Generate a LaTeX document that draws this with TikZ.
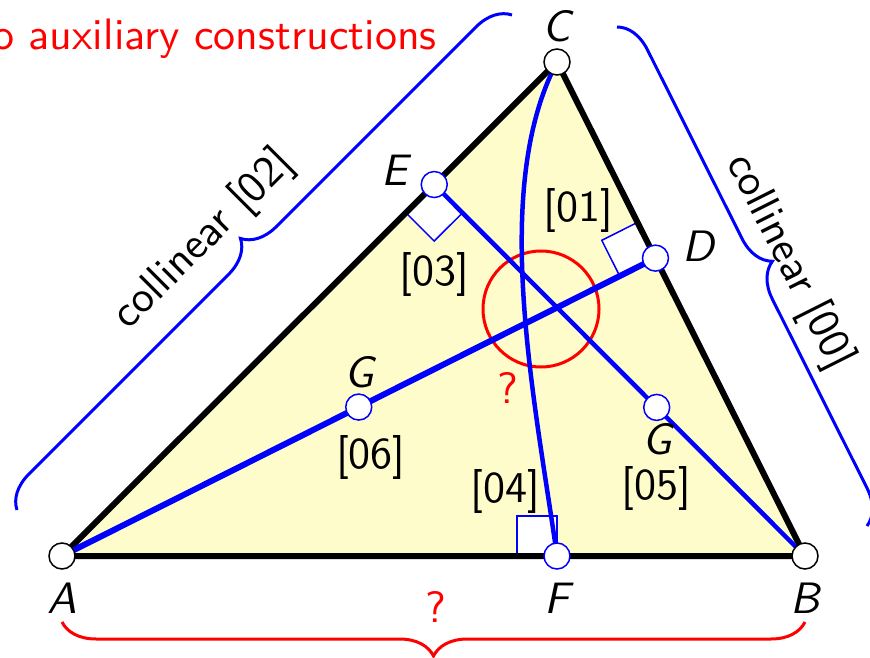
\documentclass[tikz,border=0pt]{standalone}
\usepackage{fontspec}
\setsansfont{lmsans10-regular.otf}[ItalicFont=lmsans10-oblique.otf]
\usetikzlibrary{calc,positioning,decorations.pathreplacing}

\begin{document}
\begin{tikzpicture}[
    x=1pt, y=1pt,
    pointNode/.style={circle, draw, fill=white, minimum size=26pt, inner sep=0pt, line width=1.5pt},
    vertexNode/.style={pointNode, draw=black},
    footNode/.style={pointNode, draw=blue},
    labelNode/.style={inner sep=0pt, font=\fontsize{44}{50}\selectfont\sffamily\itshape},
    stepNode/.style={inner sep=0pt, font=\fontsize{44}{50}\selectfont\sffamily},
    askNode/.style={stepNode, text=red},
    rightAngle/.style={draw=blue, fill=white, line width=1.5pt},
    braceLine/.style={decorate, decoration={brace, amplitude=34pt}, line width=3pt},
  ]

  \useasboundingbox (0,0) rectangle (870,657);

  % Triangle
  \coordinate (A) at (62,101);
  \coordinate (B) at (805,101);
  \coordinate (C) at (557,595);
  \coordinate (D) at ($(B)!(A)!(C)$);
  \coordinate (E) at ($(A)!(B)!(C)$);
  \coordinate (F) at ($(A)!(C)!(B)$);
  \coordinate (G1) at ($(A)!0.5!(D)$);
  \coordinate (G2) at ($(B)!0.4!(E)$);

  \fill[yellow!20] (A) -- (B) -- (C) -- cycle;

  % Right angles
  \coordinate (sqD1) at ($(D)!40pt!(A)$);
  \coordinate (sqD3) at ($(D)!40pt!(C)$);
  \coordinate (sqD2) at ($(sqD1)+(sqD3)-(D)$);
  \coordinate (sqE1) at ($(E)!40pt!(A)$);
  \coordinate (sqE3) at ($(E)!40pt!(B)$);
  \coordinate (sqE2) at ($(sqE1)+(sqE3)-(E)$);
  \coordinate (sqF1) at ($(F)!40pt!(A)$);
  \coordinate (sqF3) at ($(F)!40pt!(C)$);
  \coordinate (sqF2) at ($(sqF1)+(sqF3)-(F)$);
  \draw[rightAngle] (D) -- (sqD1) -- (sqD2) -- (sqD3) -- cycle;
  \draw[rightAngle] (E) -- (sqE1) -- (sqE2) -- (sqE3) -- cycle;
  \draw[rightAngle] (F) -- (sqF1) -- (sqF2) -- (sqF3) -- cycle;

  \draw[line width=6pt, line join=round] (A) -- (B) -- (C) -- cycle;

  % Altitudes
  \draw[red, line width=3pt] (541,348) circle[radius=58];
  \draw[blue, line width=6pt] (A) -- (D);
  \draw[blue, line width=4.5pt] (B) -- (E);
  \draw[blue, line width=4.5pt] (C) .. controls (490,467) and (535,257) .. (F);

  % Points
  \node[vertexNode] (nodeA) at (A) {};
  \node[vertexNode] (nodeB) at (B) {};
  \node[vertexNode] (nodeC) at (C) {};
  \node[footNode] (nodeD) at (D) {};
  \node[footNode] (nodeE) at (E) {};
  \node[footNode] (nodeF) at (F) {};
  \node[footNode] (nodeG1) at (G1) {};
  \node[footNode] (nodeG2) at (G2) {};

  % Labels
  \node[labelNode, above=6pt of nodeC] (labelC) {C};
  \node[labelNode, below=13pt of nodeA] (labelA) {A};
  \node[labelNode, below=13pt of nodeB] (labelB) {B};
  \node[labelNode, below=13pt of nodeF] (labelF) {F};
  \node[labelNode, left=13pt of nodeE, yshift=14pt] (labelE) {E};
  \node[labelNode, right=13pt of nodeD, yshift=12pt] (labelD) {D};
  \node[labelNode, above=5pt of nodeG1] (labelG1) {G};
  \node[labelNode, below=2pt of nodeG2] (labelG2) {G};

  \node[stepNode] (step01) at (578,446) {[01]};
  \node[stepNode, below=11pt of sqE2] (step03) {[03]};
  \node[stepNode] (step04) at (505,166) {[04]};
  \node[stepNode, below=11pt of labelG2] (step05) {[05]};
  \node[stepNode, below=14pt of nodeG1, xshift=12pt] (step06) {[06]};

  \node[askNode] (askH) at (508,269) {?};
  \node[askNode] (askAB) at (436,50) {?};
  \node[askNode, anchor=base east] (noAux) at (437,607) {no auxiliary constructions};

  % Braces
  \coordinate (braceAC1) at (17,147);
  \coordinate (braceAC2) at (512,642);
  \coordinate (braceCB1) at (617,630);
  \coordinate (braceCB2) at (867,131);
  \coordinate (braceAB1) at (805,35);
  \coordinate (braceAB2) at (62,35);
  \draw[braceLine, blue] (braceAC1) -- (braceAC2);
  \draw[braceLine, blue] (braceCB1) -- (braceCB2);
  \draw[braceLine, red] (braceAB1) -- (braceAB2);

  \node[stepNode, rotate=45] (colAC) at (204,417) {collinear [02]};
  \node[stepNode, rotate=-63.3] (colCB) at (789,395) {collinear [00]};

\end{tikzpicture}
\end{document}
